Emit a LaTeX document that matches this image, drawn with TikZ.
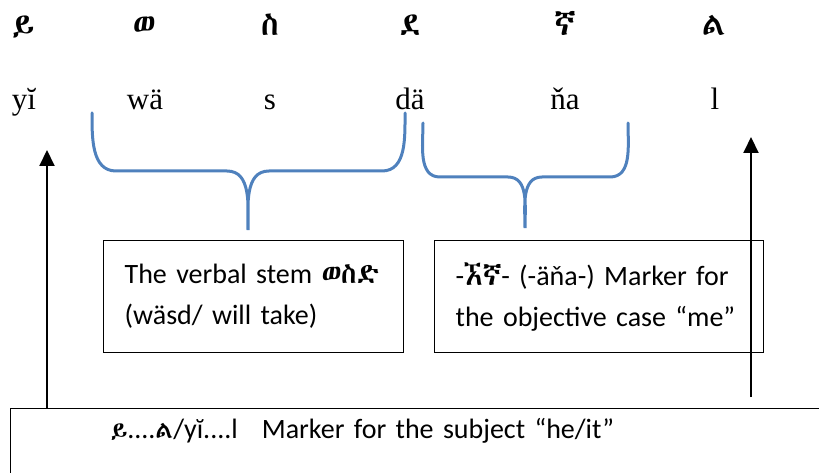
\documentclass[tikz,border=0pt]{standalone}
\usepackage{fontspec}
\setmainfont{Liberation Serif}
\newfontfamily\calibfont{Carlito}
\IfFontExistsTF{Abyssinica SIL}
  {\newfontfamily\geezfont{Abyssinica SIL}}
  {\IfFontExistsTF{Noto Sans Ethiopic}
    {\newfontfamily\geezfont{Noto Sans Ethiopic}}
    {\newfontfamily\geezfont{DejaVu Sans}}}
\usetikzlibrary{arrows.meta,positioning}
\definecolor{braceblue}{RGB}{79,129,189}
\tikzset{
  geez/.style={font=\geezfont\fontsize{32}{36}\selectfont, inner sep=0pt, anchor=base},
  translit/.style={font=\fontsize{31}{36}\selectfont, inner sep=0pt, anchor=base},
  glossbox/.style={draw, line width=1.3pt, align=left, anchor=north west,
                   font=\calibfont\fontsize{28}{41}\selectfont, inner xsep=21pt,
                   minimum height=112pt},
  subjbox/.style={draw, line width=1.3pt, align=left, anchor=north west,
                  font=\calibfont\fontsize{28}{34}\selectfont, inner xsep=100pt,
                  inner ysep=10pt, text height=20pt, text depth=70pt, text width=760pt},
  bluebrace/.style={draw=braceblue, line width=3pt, line cap=round},
  flow/.style={-{Triangle[length=16pt,width=15pt]}, line width=2pt},
}
\newcommand{\gz}[1]{{\geezfont\fontsize{28}{30}\selectfont #1}}
\newcommand{\gzs}[1]{{\geezfont\fontsize{24}{28}\selectfont #1}}

\begin{document}
\begin{tikzpicture}[x=1pt,y=1pt]
  \useasboundingbox (0,0) rectangle (819,472);
  \clip (0,0) rectangle (819,472);
  % ge'ez syllables
  \node[geez] (g1) at (23,436) {ይ};
  \node[geez] (g2) at (144,436) {ወ};
  \node[geez] (g3) at (270,436) {ስ};
  \node[geez] (g4) at (410,436) {ደ};
  \node[geez] (g5) at (565,436) {ኛ};
  \node[geez] (g6) at (714,436) {ል};
  % transliteration
  \node[translit] (t1) at (24,362) {yĭ};
  \node[translit] (t2) at (145,362) {wä};
  \node[translit] (t3) at (270,362) {s};
  \node[translit] (t4) at (410,362) {dä};
  \node[translit] (t5) at (565,362) {ňa};
  \node[translit] (t6) at (715,362) {l};
  % braces
  \draw[bluebrace] (92,359) to[out=-90,in=180] (116,301) -- (227,301)
    to[out=0,in=90] (248,242) to[out=90,in=180] (269,301) -- (382,301)
    to[out=0,in=-90] (405,359);
  \draw[bluebrace] (423,349) to[out=-90,in=180] (440,295) -- (508,295)
    to[out=0,in=90] (525,244) to[out=90,in=180] (542,295) -- (610,295)
    to[out=0,in=-90] (628,349);
  % gloss boxes
  \node[glossbox, text width=258pt] (stem) at (103,232)
    {The verbal stem \gz{ወስድ}\\(wäsd/ will take)};
  \node[glossbox, text width=287pt] (obj) at (434,232)
    {-\gz{ኧኛ}- (-äňa-) Marker for\\the objective case “me”};
  \node[subjbox] (subj) at (10,64)
    {\gzs{ይ}....\gzs{ል}/yĭ....l\hspace{24pt}Marker for the subject “he/it”};
  % arrows
  \coordinate (ltip) at (47,322);
  \coordinate (rtip) at (751,335);
  \coordinate (rtail) at (751,75);
  \draw[flow] (ltip |- subj.north) -- (ltip);
  \draw[flow] (rtail) -- (rtip);
\end{tikzpicture}
\end{document}
